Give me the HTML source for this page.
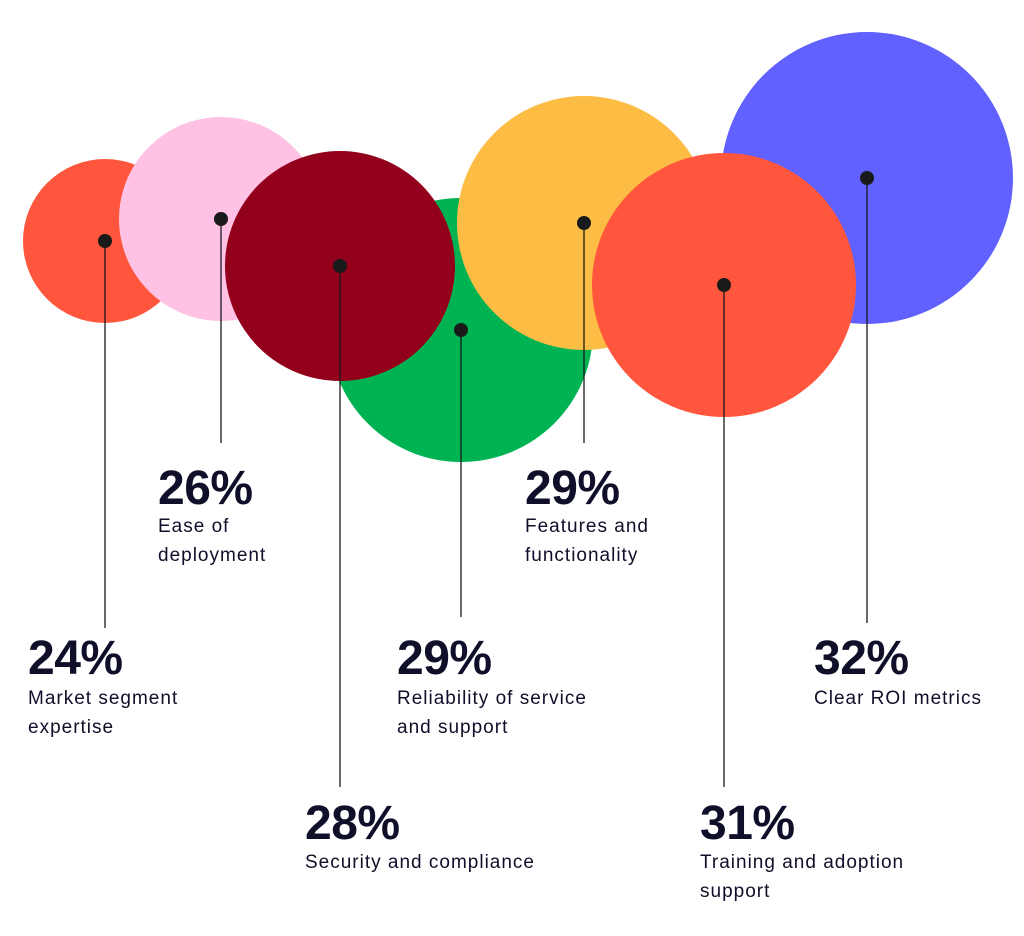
<!DOCTYPE html>
<html><head><meta charset="utf-8"><style>
html,body{margin:0;padding:0;background:#fff;}
body{width:1024px;height:936px;position:relative;overflow:hidden;font-family:"Liberation Sans",sans-serif;color:#0f0f2a;}
.p{position:absolute;font-size:48px;font-weight:bold;line-height:48px;letter-spacing:-0.5px;}
.t{position:absolute;font-size:19px;line-height:29px;letter-spacing:1px;white-space:nowrap;}
</style></head><body>
<svg width="1024" height="936" style="position:absolute;left:0;top:0">
<circle cx="105" cy="241" r="82" fill="#ff563d"/>
<circle cx="221" cy="219" r="102" fill="#ffc2e4"/>
<circle cx="461" cy="330" r="132" fill="#00b352"/>
<circle cx="340" cy="266" r="115" fill="#93001b"/>
<circle cx="584" cy="223" r="127" fill="#fdbd45"/>
<circle cx="867" cy="178" r="146" fill="#6161ff"/>
<circle cx="724" cy="285" r="132" fill="#ff563d"/>
<g stroke="#1a1a1a" stroke-width="1.3">
<line x1="105" y1="241" x2="105" y2="628"/>
<line x1="221" y1="219" x2="221" y2="443"/>
<line x1="340" y1="266" x2="340" y2="787"/>
<line x1="461" y1="330" x2="461" y2="617"/>
<line x1="584" y1="223" x2="584" y2="443"/>
<line x1="724" y1="285" x2="724" y2="787"/>
<line x1="867" y1="178" x2="867" y2="623"/>
</g>
<g fill="#1a1a1a">
<circle cx="105" cy="241" r="7"/><circle cx="221" cy="219" r="7"/><circle cx="340" cy="266" r="7"/>
<circle cx="461" cy="330" r="7"/><circle cx="584" cy="223" r="7"/><circle cx="724" cy="285" r="7"/><circle cx="867" cy="178" r="7"/>
</g>
</svg>
<div class="p" style="left:28px;top:635px">24%</div>
<div class="t" style="left:28px;top:684px">Market segment<br>expertise</div>
<div class="p" style="left:158px;top:465px">26%</div>
<div class="t" style="left:158px;top:512px">Ease of<br>deployment</div>
<div class="p" style="left:305px;top:800px">28%</div>
<div class="t" style="left:305px;top:848px">Security and compliance</div>
<div class="p" style="left:397px;top:635px">29%</div>
<div class="t" style="left:397px;top:684px">Reliability of service<br>and support</div>
<div class="p" style="left:525px;top:465px">29%</div>
<div class="t" style="left:525px;top:512px">Features and<br>functionality</div>
<div class="p" style="left:700px;top:800px">31%</div>
<div class="t" style="left:700px;top:848px">Training and adoption<br>support</div>
<div class="p" style="left:814px;top:635px">32%</div>
<div class="t" style="left:814px;top:684px">Clear ROI metrics</div>
</body></html>
